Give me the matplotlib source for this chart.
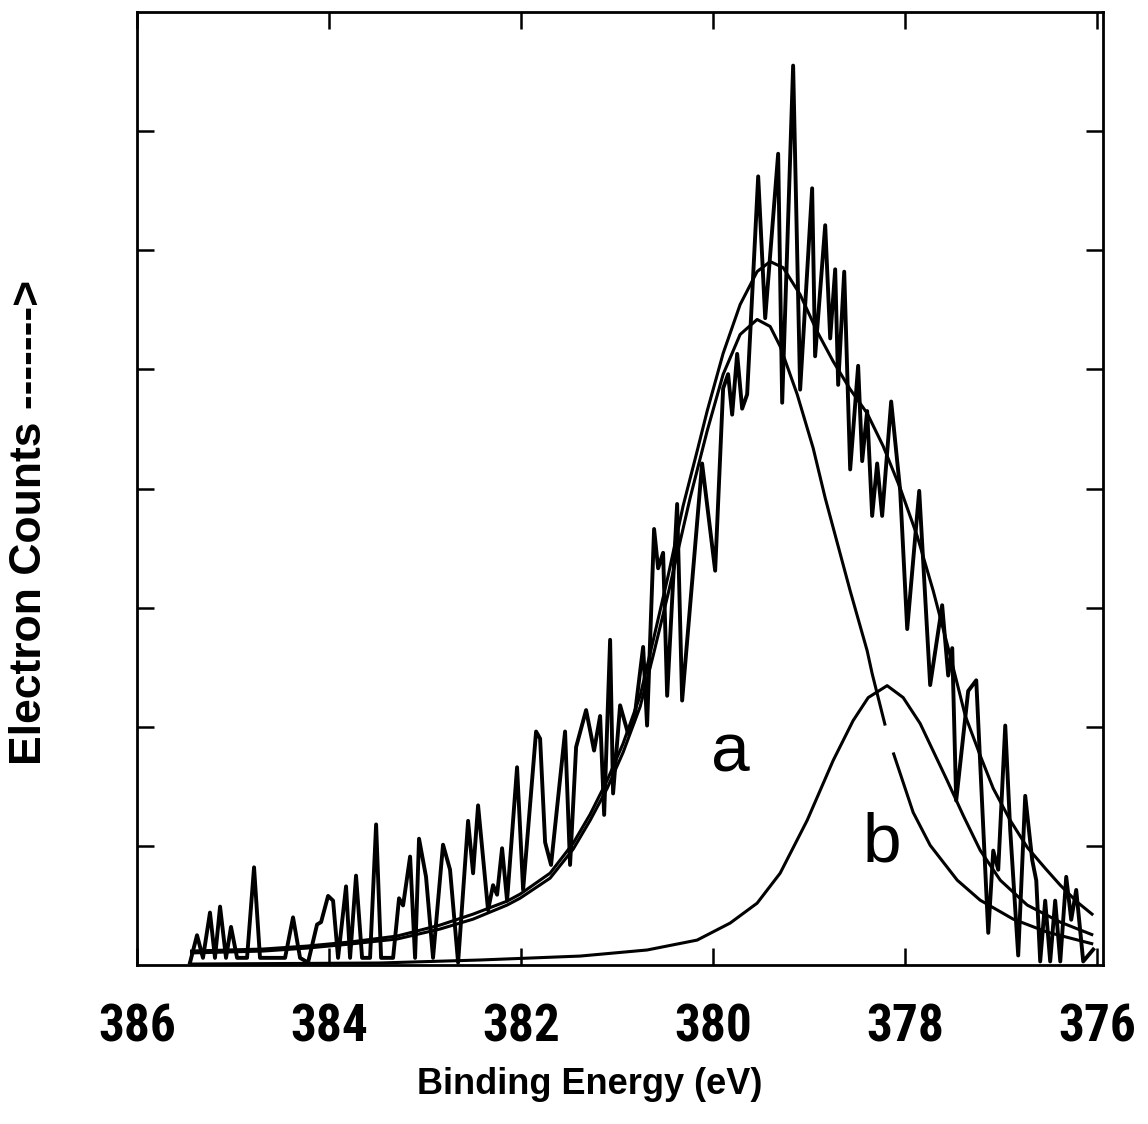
import numpy as np
import matplotlib
matplotlib.use('Agg')
import matplotlib.pyplot as plt

# ---- measured spectrum (binding energy in eV, counts in arbitrary units) ----
energy = [385.448, 385.375, 385.313, 385.240, 385.188, 385.135, 385.073, 385.021, 384.958, 384.854,
          384.781, 384.719, 384.458, 384.375, 384.302, 384.219, 384.125, 384.083, 384.010, 383.958,
          383.906, 383.823, 383.781, 383.719, 383.656, 383.573, 383.510, 383.458, 383.333, 383.271,
          383.229, 383.156, 383.104, 383.063, 382.990, 382.917, 382.813, 382.740, 382.656, 382.552,
          382.500, 382.448, 382.344, 382.292, 382.250, 382.198, 382.146, 382.042, 381.979, 381.844,
          381.802, 381.750, 381.688, 381.542, 381.490, 381.427, 381.323, 381.240, 381.177, 381.135,
          381.073, 381.042, 380.969, 380.885, 380.823, 380.729, 380.688, 380.615, 380.573, 380.521,
          380.479, 380.375, 380.323, 380.115, 379.979, 379.896, 379.844, 379.802, 379.750, 379.698,
          379.646, 379.531, 379.458, 379.323, 379.281, 379.167, 379.094, 378.969, 378.938, 378.833,
          378.781, 378.729, 378.698, 378.635, 378.573, 378.490, 378.448, 378.396, 378.344, 378.292,
          378.240, 378.146, 378.052, 377.979, 377.854, 377.740, 377.615, 377.552, 377.510, 377.469,
          377.344, 377.260, 377.135, 377.083, 377.031, 376.958, 376.906, 376.823, 376.750, 376.677,
          376.635, 376.594, 376.542, 376.490, 376.438, 376.385, 376.323, 376.271, 376.219, 376.146,
          376.042]
counts = [0.02, 0.25, 0.06, 0.44, 0.06, 0.49, 0.06, 0.32, 0.06, 0.06,
          0.82, 0.06, 0.06, 0.40, 0.06, 0.02, 0.34, 0.36, 0.58, 0.54,
          0.06, 0.66, 0.06, 0.75, 0.06, 0.06, 1.18, 0.06, 0.06, 0.56,
          0.50, 0.91, 0.06, 1.06, 0.74, 0.06, 1.01, 0.80, 0.02, 1.21,
          0.77, 1.34, 0.46, 0.67, 0.59, 0.98, 0.54, 1.66, 0.63, 1.96,
          1.90, 1.03, 0.84, 1.96, 0.84, 1.83, 2.14, 1.80, 2.09, 1.26,
          2.73, 1.44, 2.18, 1.94, 2.05, 2.67, 2.01, 3.66, 3.33, 3.46,
          2.26, 3.87, 2.22, 4.21, 3.31, 4.84, 4.96, 4.62, 5.13, 4.67,
          4.79, 6.62, 5.43, 6.81, 4.72, 7.55, 4.83, 6.52, 5.11, 6.21,
          5.26, 5.84, 4.87, 5.82, 4.16, 5.03, 4.23, 4.65, 3.77, 4.21,
          3.77, 4.73, 3.98, 2.82, 3.98, 2.35, 3.02, 2.43, 2.66, 1.38,
          2.30, 2.39, 0.27, 0.96, 0.80, 2.01, 1.13, 0.08, 1.42, 0.88,
          0.71, 0.03, 0.54, 0.03, 0.54, 0.03, 0.74, 0.38, 0.63, 0.03,
          0.13]

# ---- fitted envelope (sum of components) ----
env_energy = [385.448, 384.688, 384.229, 383.781, 383.292, 382.844, 382.500, 382.146, 382.010, 381.698,
              381.458, 381.281, 381.104, 380.938, 380.760, 380.625, 380.469, 380.313, 380.167, 380.063,
              379.896, 379.719, 379.542, 379.406, 379.271, 379.094, 378.917, 378.750, 378.573, 378.396,
              378.229, 378.052, 377.875, 377.708, 377.531, 377.375, 377.219, 377.083, 376.906, 376.729,
              376.542, 376.385, 376.208, 376.042]
env_counts = [0.117, 0.134, 0.159, 0.193, 0.243, 0.335, 0.427, 0.536, 0.595, 0.771,
              1.022, 1.265, 1.549, 1.859, 2.261, 2.722, 3.266, 3.853, 4.313, 4.648,
              5.134, 5.544, 5.821, 5.905, 5.854, 5.628, 5.318, 5.067, 4.833, 4.631,
              4.355, 4.003, 3.601, 3.141, 2.596, 2.094, 1.759, 1.482, 1.214, 0.988,
              0.812, 0.670, 0.528, 0.419]

# ---- component a (the printed curve has a short break near 378.2 eV) ----
peak_a_energy = [385.448, 384.688, 384.229, 383.781, 383.292, 382.844, 382.500, 382.146, 382.010, 381.698,
                 381.458, 381.281, 381.104, 380.938, 380.760, 380.625, 380.469, 380.240, 380.063, 379.896,
                 379.719, 379.542, 379.406, 379.302, 379.125, 378.958, 378.833, 378.573, 378.396, 378.344,
                 378.208, 378.125, 377.917, 377.740, 377.458, 377.219, 376.875, 376.521, 376.042]
peak_a_counts = [0.101, 0.117, 0.142, 0.176, 0.218, 0.302, 0.385, 0.503, 0.561, 0.729,
                 0.972, 1.214, 1.482, 1.784, 2.169, 2.596, 3.116, 3.920, 4.481, 4.958,
                 5.293, 5.419, 5.360, 5.193, 4.791, 4.338, 3.920, 3.141, 2.638, 2.446,
                 2.010, 1.784, 1.281, 1.005, 0.712, 0.544, 0.385, 0.276, 0.176]
peak_a_break = 31  # index where the printed line resumes after its gap

# ---- component b ----
peak_b_energy = [385.448, 383.469, 382.427, 381.385, 380.688, 380.167, 379.823, 379.542, 379.302, 379.021,
                 378.750, 378.542, 378.385, 378.188, 378.021, 377.844, 377.563, 377.396, 377.219, 377.010,
                 376.729, 376.385, 376.042]
peak_b_counts = [0.008, 0.017, 0.042, 0.075, 0.126, 0.209, 0.352, 0.519, 0.771, 1.214,
                 1.717, 2.052, 2.245, 2.345, 2.245, 2.027, 1.549, 1.256, 0.963, 0.712,
                 0.503, 0.360, 0.251]

x_ticks = [386, 384, 382, 380, 378, 376]
x_tick_labels = ['386', '384', '382', '380', '378', '376']
y_ticks = [1, 2, 3, 4, 5, 6, 7]

W, H = 1148, 1124
fig = plt.figure(figsize=(W / 100, H / 100), dpi=100)
ax = fig.add_axes([137 / W, 1 - 965 / H, (1103 - 137) / W, (965 - 12) / H])

fit_kw = dict(color='black', lw=2.2, solid_capstyle='butt', solid_joinstyle='round')
ax.plot(env_energy, env_counts, **fit_kw)
ax.plot(peak_a_energy[:peak_a_break], peak_a_counts[:peak_a_break], **fit_kw)
ax.plot(peak_a_energy[peak_a_break:], peak_a_counts[peak_a_break:], **fit_kw)
ax.plot(peak_b_energy, peak_b_counts, **fit_kw)
ax.plot(energy, counts, color='black', lw=2.8, solid_joinstyle='round')

ax.set_xlim(386.0, 375.94)
ax.set_ylim(0, 8)

tick_font = dict(family=['Roboto Condensed', 'Liberation Sans Narrow', 'Liberation Sans', 'DejaVu Sans'],
                 weight='bold', size=37)
ax.set_xticks(x_ticks)
ax.set_xticklabels(x_tick_labels, fontdict=tick_font)
ax.set_yticks(y_ticks)
ax.set_yticklabels([])
ax.tick_params(axis='both', direction='in', length=12, width=1.8,
               top=True, right=True, color='black')
ax.tick_params(axis='x', pad=27)
for s in ax.spines.values():
    s.set_linewidth(2.0)

fig.text(590 / W, 1 - 1085 / H, 'Binding Energy (eV)', ha='center', va='center',
         family=['Liberation Sans', 'DejaVu Sans'], weight='bold', size=26)
fig.text(30 / W, 1 - 522 / H, 'Electron Counts ------->', rotation=90,
         ha='center', va='center', family=['Liberation Sans', 'DejaVu Sans'],
         weight='bold', size=32)

ax.text(379.823, 1.776, 'a', fontsize=50, family=['Liberation Sans', 'DejaVu Sans'],
        ha='center', va='center')
ax.text(378.24, 1.02, 'b', fontsize=50, family=['Liberation Sans', 'DejaVu Sans'],
        ha='center', va='center')

fig.savefig('out.png', dpi=100, facecolor='white')
